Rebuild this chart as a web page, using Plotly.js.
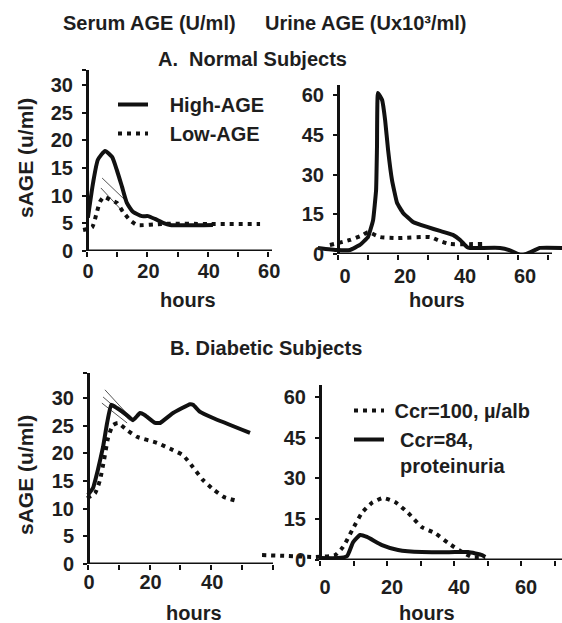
<!DOCTYPE html>
<html>
<head>
<meta charset="utf-8">
<script src="https://cdn.plot.ly/plotly-3.0.1.min.js"></script>
<style>html,body{margin:0;padding:0;background:#fff;}#chart{width:562px;height:623px;}</style>
</head>
<body>
<div id="chart"></div>
<script>
// ---------- Data ----------
// A. Normal subjects, serum AGE (U/ml)
const hrsSerumHigh = [0.3, 2.0, 3.6, 6.0, 8.3, 9.9, 11.6, 13.2, 15.2, 18.2, 20.2, 22.5, 25.2, 27.5, 41.7];
const serumHigh    = [6.0, 12.3, 16.5, 18.1, 17.0, 14.6, 11.6, 8.7, 7.1, 6.3, 6.3, 5.8, 5.1, 4.7, 4.7];
const hrsSerumLow  = [-1.3, 1.7, 3.3, 4.3, 5.6, 7.6, 9.9, 11.9, 14.2, 16.6, 25, 40, 57.3];
const serumLow     = [3.8, 4.3, 7.1, 8.9, 9.8, 9.3, 8.7, 7.1, 5.6, 4.7, 4.9, 4.9, 4.9];
// thin guide strokes visible near the serum peak
const hrsSerumGuide1 = [5.0, 13.2];
const serumGuide1    = [13.2, 8.9];
const hrsSerumGuide2 = [4.6, 11.9];
const serumGuide2    = [11.4, 7.1];
// A. Normal subjects, urine AGE (Ux10^3/ml)
const hrsUrineHigh = [-6.7, -0.3, 4, 7.3, 10, 11.7, 12.7, 13, 13.3, 14.7, 15.7, 16.7, 18, 19.7, 21.7, 25, 29.7, 34, 38.3, 40.7, 43, 44, 54, 57.3, 61.3, 64, 67.3, 74.7];
const urineHigh    = [2.3, 1.5, 1.5, 3.4, 6.4, 12.8, 24.2, 40.4, 60.8, 58.1, 50.6, 39.2, 27.9, 19.2, 15.5, 12.1, 10.2, 8.7, 7.2, 5.3, 2.6, 2.3, 2.3, 1.4, -0.6, 0.6, 2.3, 2.3];
const hrsUrineLow  = [-2.7, 4, 8.3, 10, 14, 19.7, 30.7, 34, 37.3, 48.3];
const urineLow     = [3.4, 5.3, 7.2, 8.3, 6.4, 6.0, 6.4, 4.9, 3.8, 3.8];
// B. Diabetic subjects, serum AGE
const hrsDiabSerum84  = [0, 1.6, 3.2, 4.9, 6.2, 7.5, 9.4, 12.7, 14.6, 16.9, 18.5, 21.8, 23.4, 27.6, 33.1, 34.1, 36.4, 40.6, 52.6];
const diabSerum84     = [12.5, 13.7, 17.0, 21.2, 25.5, 28.8, 28.2, 26.9, 26.0, 27.3, 26.9, 25.5, 25.5, 27.3, 28.9, 28.8, 27.5, 26.4, 23.7];
const hrsDiabSerum100 = [-0.3, 2.3, 3.9, 5.2, 6.5, 8.1, 9.7, 12.7, 15.9, 22.4, 27.6, 30.8, 34.1, 37.3, 40.9, 44.2, 48.4];
const diabSerum100    = [11.9, 12.8, 15.2, 18.8, 22.8, 25.1, 25.5, 24.2, 23.0, 21.9, 20.6, 19.7, 17.5, 15.2, 13.4, 12.1, 11.4];
const hrsDiabGuide1 = [5.5, 14.6];
const diabGuide1    = [31.5, 26.0];
const hrsDiabGuide2 = [4.9, 13.6];
const diabGuide2    = [30.2, 26.0];
const hrsDiabGuide3 = [4.5, 12.7];
const diabGuide3    = [29.1, 25.5];
// B. Diabetic subjects, urine AGE
const hrsDiabUrine100 = [-17.3, -9.6, -1.5, 4.5, 6.9, 9.6, 12.5, 15.5, 18.8, 22.4, 26.3, 30.4, 34.3, 38.2, 42.4, 45.4, 49.3];
const diabUrine100    = [1.8, 1.5, 1.1, 1.8, 4.8, 11.0, 17.3, 21.0, 22.8, 21.3, 17.3, 12.1, 9.9, 6.3, 2.9, 1.1, 1.1];
const hrsDiabUrine84  = [0, 5.4, 8.1, 9.9, 12, 14, 18.5, 23.3, 30.4, 40.3, 44.2, 48.4, 49.3];
const diabUrine84     = [0.7, 0.7, 1.5, 6.6, 9.2, 8.5, 5.5, 3.7, 2.9, 2.9, 2.9, 1.8, 1.1];

// Tick positions and labels
const xTicks70 = [0, 10, 20, 30, 40, 50, 60, 70];
const xTicks60 = [0, 10, 20, 30, 40, 50, 60];
const xLabelsA = [0, 20, 40, 60];
const xLabelsB1 = [0, 20, 40];
const serumTicks = [0, 5, 10, 15, 20, 25, 30];
const urineTicks = [0, 15, 30, 45, 60];
const legendNames = ['High-AGE', 'Low-AGE', 'Ccr=100, \u00b5/alb', 'Ccr=84,<br>proteinuria'];

// ---------- Layout helpers ----------
const W = 562, H = 623;
const FONT = 'Liberation Sans, Arial, Helvetica, sans-serif';
const INK = '#111';
const TXT = '#1e1e1e';
const xd = (a, b) => [a / W, b / W];
const yd = (top, bottom) => [1 - bottom / H, 1 - top / H];
const bold = (size) => ({family: FONT, size, color: TXT, weight: 'bold'});

// tick marks only
function xAxis(domain, range, vals, anchor) {
  return {
    domain, range, anchor, showline: false, zeroline: false, showgrid: false,
    ticks: 'outside', ticklen: 5, tickwidth: 2, tickcolor: INK,
    tickvals: vals, showticklabels: false, fixedrange: true
  };
}
// tick labels only, on an overlaid axis placed so the labels sit close under the tick row
function xLabelAxis(over, domain, range, vals, bottomPx, off, shift) {
  return {
    overlaying: over, anchor: 'free', position: 1 - (bottomPx + off - 11) / H, side: 'bottom',
    domain, range, showline: false, zeroline: false, showgrid: false, ticks: '',
    tickvals: vals, ticktext: vals.map(String), ticklabelshift: shift || 0,
    tickfont: bold(20), fixedrange: true
  };
}
function yAxis(domain, range, posPx, vals, extraTop) {
  const tv = extraTop ? vals.concat([range[1]]) : vals;
  return {
    domain, range, anchor: 'free', position: posPx / W,
    showline: true, linewidth: 3, linecolor: INK, zeroline: false, showgrid: false,
    ticks: 'outside', ticklen: 4, tickwidth: 2, tickcolor: INK,
    tickvals: tv, ticktext: tv.map(v => vals.includes(v) ? String(v) : ''),
    ticklabelstandoff: 5,
    tickfont: bold(20), fixedrange: true
  };
}
const solid = {color: INK, width: 4, shape: 'spline', smoothing: 0.5};
const dotted = {color: INK, width: 4, dash: '4px,5px', shape: 'spline', smoothing: 0.5};
const thin = {color: '#555', width: 1};

// Panel geometry (pixels -> axis ranges)
const pA1 = {x0: 87, ppx: 3.02, left: 80, right: 272, top: 70, bottom: 251, ppy: 5.53};
const pA2 = {x0: 338, ppx: 3.0, left: 316, right: 562, top: 85, bottom: 254, ppy: 2.65};
const pB1 = {x0: 88, ppx: 3.08, left: 84, right: 275, top: 373, bottom: 564, ppy: 5.53};
const pB2 = {x0: 320, ppx: 3.35, left: 262, right: 562, top: 385, bottom: 560, ppy: 2.72};
const xr = p => [(p.left - p.x0) / p.ppx, (p.right - p.x0) / p.ppx];
const yr = p => [0, (p.bottom - p.top) / p.ppy];

const line = (x, y, ax, ay, l, extra) => Object.assign({x, y, xaxis: ax, yaxis: ay, mode: 'lines', line: l, showlegend: false, hoverinfo: 'skip'}, extra || {});
const data = [
  line(hrsSerumGuide1, serumGuide1, 'x', 'y', thin),
  line(hrsSerumGuide2, serumGuide2, 'x', 'y', thin),
  line(hrsSerumHigh, serumHigh, 'x', 'y', solid, {name: legendNames[0], legend: 'legend', showlegend: true}),
  line(hrsSerumLow, serumLow, 'x', 'y', dotted, {name: legendNames[1], legend: 'legend', showlegend: true}),
  line(hrsUrineHigh, urineHigh, 'x2', 'y2', Object.assign({}, solid, {smoothing: 0.3})),
  line(hrsUrineLow, urineLow, 'x2', 'y2', dotted),
  line(hrsDiabGuide1, diabGuide1, 'x3', 'y3', thin),
  line(hrsDiabGuide2, diabGuide2, 'x3', 'y3', thin),
  line(hrsDiabGuide3, diabGuide3, 'x3', 'y3', thin),
  line(hrsDiabSerum84, diabSerum84, 'x3', 'y3', Object.assign({}, solid, {smoothing: 0.3})),
  line(hrsDiabSerum100, diabSerum100, 'x3', 'y3', dotted),
  line(hrsDiabUrine100, diabUrine100, 'x4', 'y4', dotted, {name: legendNames[2], legend: 'legend2', showlegend: true}),
  line(hrsDiabUrine84, diabUrine84, 'x4', 'y4', solid, {name: legendNames[3], legend: 'legend2', showlegend: true}),
  // invisible carriers so the label-only axes are drawn
  line([0], [0], 'x5', 'y', {width: 0}, {opacity: 0}),
  line([0], [0], 'x6', 'y2', {width: 0}, {opacity: 0}),
  line([0], [0], 'x7', 'y3', {width: 0}, {opacity: 0}),
  line([0], [0], 'x8', 'y4', {width: 0}, {opacity: 0})
];

const xEnd = (p, px) => (px - p.x0) / p.ppx;
const axisLine = (xref, yref, x1) => ({type: 'line', xref, yref, x0: 0, x1, y0: 0, y1: 0, line: {color: INK, width: 3}, layer: 'above'});

const ann = (text, xpx, ypx, opts) => Object.assign({
  text, x: xpx / W, y: 1 - ypx / H, xref: 'paper', yref: 'paper', showarrow: false,
  xanchor: 'center', yanchor: 'middle', font: bold(20)
}, opts || {});

const layout = {
  width: W, height: H, margin: {l: 0, r: 0, t: 0, b: 0},
  paper_bgcolor: '#fff', plot_bgcolor: 'rgba(0,0,0,0)',
  xaxis: xAxis(xd(pA1.left, pA1.right), xr(pA1), xTicks60, 'y'),
  yaxis: yAxis(yd(pA1.top, pA1.bottom), yr(pA1), pA1.x0, serumTicks, true),
  xaxis2: xAxis(xd(pA2.left, pA2.right), xr(pA2), xTicks70, 'y2'),
  yaxis2: yAxis(yd(pA2.top, pA2.bottom), yr(pA2), pA2.x0, urineTicks, false),
  xaxis3: xAxis(xd(pB1.left, pB1.right), xr(pB1), xTicks60, 'y3'),
  yaxis3: yAxis(yd(pB1.top, pB1.bottom), yr(pB1), pB1.x0, serumTicks, true),
  xaxis4: xAxis(xd(pB2.left, pB2.right), xr(pB2), xTicks70, 'y4'),
  yaxis4: yAxis(yd(pB2.top, pB2.bottom), yr(pB2), pB2.x0, urineTicks, false),
  xaxis5: xLabelAxis('x', xd(pA1.left, pA1.right), xr(pA1), xLabelsA, pA1.bottom, 17, 1),
  xaxis6: xLabelAxis('x2', xd(pA2.left, pA2.right), xr(pA2), xLabelsA, pA2.bottom, 19, 7),
  xaxis7: xLabelAxis('x3', xd(pB1.left, pB1.right), xr(pB1), xLabelsB1, pB1.bottom, 15, 1),
  xaxis8: xLabelAxis('x4', xd(pB2.left, pB2.right), xr(pB2), xLabelsA, pB2.bottom, 24, 5),
  shapes: [
    axisLine('x', 'y', xEnd(pA1, 272)),
    axisLine('x2', 'y2', xEnd(pA2, 552)),
    axisLine('x3', 'y3', xEnd(pB1, 273)),
    axisLine('x4', 'y4', xEnd(pB2, 562))
  ],
  legend: {x: 113 / W, y: 1 - 85 / H, xanchor: 'left', yanchor: 'top', bgcolor: 'rgba(0,0,0,0)',
           font: bold(20), tracegroupgap: 0, itemwidth: 30, traceorder: 'normal'},
  legend2: {x: 349 / W, y: 1 - 391 / H, xanchor: 'left', yanchor: 'top', bgcolor: 'rgba(0,0,0,0)',
            font: bold(20), tracegroupgap: 0, itemwidth: 30, valign: 'top', traceorder: 'normal'},
  annotations: [
    ann('Serum AGE (U/ml)', 150, 23),
    ann('Urine AGE (Ux10\u00b3/ml)', 366, 23),
    ann('A.\u00a0 Normal Subjects', 252, 59),
    ann('B. Diabetic Subjects', 266, 348),
    ann('sAGE (u/ml)', 25, 158, {textangle: -90, font: bold(21)}),
    ann('sAGE (u/ml)', 25, 475, {textangle: -90, font: bold(21)}),
    ann('hours', 188, 300),
    ann('hours', 437, 300),
    ann('hours', 194, 613),
    ann('hours', 427, 613)
  ]
};

// legend text gap: the reference leaves a wider gap between sample and label
const pad = {'High-AGE': 3, 'Low-AGE': 3, 'Ccr=100, \u00b5/alb': 1, 'Ccr=84,<br>proteinuria': 2};
data.forEach(t => {
  if (t.showlegend) {
    const n = '\u00a0'.repeat(pad[t.name]);
    t.name = n + t.name.replace('<br>', '<br>' + n);
  }
});

Plotly.newPlot('chart', data, layout, {staticPlot: true, displayModeBar: false});
</script>
</body>
</html>
